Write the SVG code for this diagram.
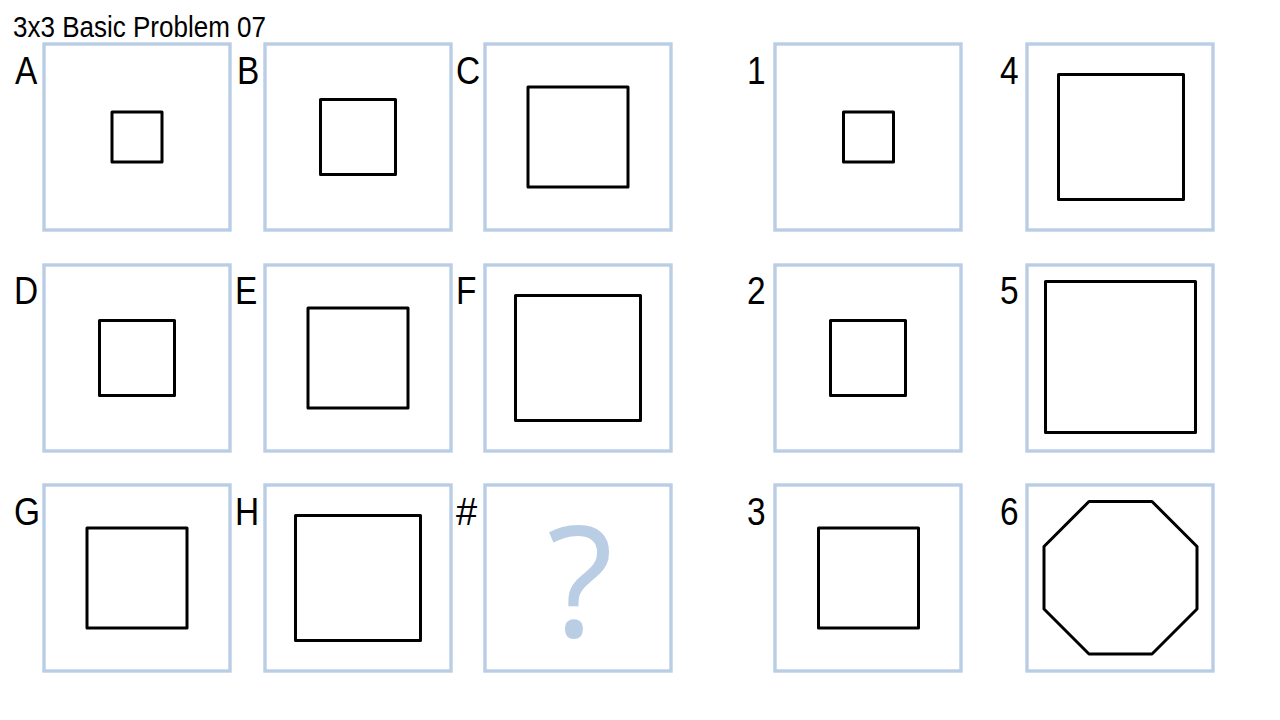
<svg xmlns="http://www.w3.org/2000/svg" width="1280" height="720" viewBox="0 0 1280 720">
<style>
.frame{fill:#ffffff;stroke:#b9cde5;stroke-width:3.4}
.shape{fill:none;stroke:#000000;stroke-width:3;stroke-linejoin:round}
.lbl{font-family:"Liberation Sans",Arial,sans-serif;font-size:38px;fill:#000000}
.title{font-family:"Liberation Sans",Arial,sans-serif;font-size:30px;fill:#000000}
.q{font-family:"Open Sans","DejaVu Sans",sans-serif;font-size:154px;fill:#b9cde5}
</style>
<rect width="1280" height="720" fill="#ffffff"/>
<text class="title" x="13" y="37" textLength="253" lengthAdjust="spacingAndGlyphs">3x3 Basic Problem 07</text>

<g id="A"><rect class="frame" x="44" y="44" width="186" height="186"/><rect class="shape" x="112" y="112" width="50" height="50"/><text class="lbl" transform="translate(15,84) scale(0.88,1)">A</text></g>
<g id="B"><rect class="frame" x="265" y="44" width="186" height="186"/><rect class="shape" x="320.5" y="99.5" width="75" height="75"/><text class="lbl" transform="translate(237,84) scale(0.88,1)">B</text></g>
<g id="C"><rect class="frame" x="485" y="44" width="186" height="186"/><rect class="shape" x="528" y="87" width="100" height="100"/><text class="lbl" transform="translate(456,84) scale(0.88,1)">C</text></g>

<g id="D"><rect class="frame" x="44" y="265" width="186" height="186"/><rect class="shape" x="99.5" y="320.5" width="75" height="75"/><text class="lbl" transform="translate(14,304) scale(0.88,1)">D</text></g>
<g id="E"><rect class="frame" x="265" y="265" width="186" height="186"/><rect class="shape" x="308" y="308" width="100" height="100"/><text class="lbl" transform="translate(235,304) scale(0.88,1)">E</text></g>
<g id="F"><rect class="frame" x="485" y="265" width="186" height="186"/><rect class="shape" x="515.5" y="295.5" width="125" height="125"/><text class="lbl" transform="translate(456,304) scale(0.88,1)">F</text></g>

<g id="G"><rect class="frame" x="44" y="485" width="186" height="186"/><rect class="shape" x="87" y="528" width="100" height="100"/><text class="lbl" transform="translate(14,525) scale(0.88,1)">G</text></g>
<g id="H"><rect class="frame" x="265" y="485" width="186" height="186"/><rect class="shape" x="295.5" y="515.5" width="125" height="125"/><text class="lbl" transform="translate(235,525) scale(0.88,1)">H</text></g>
<g id="Q"><rect class="frame" x="485" y="485" width="186" height="186"/><text class="q" x="580" y="637" text-anchor="middle">?</text><text class="lbl" transform="translate(456,525) scale(1.0,1)">#</text></g>

<g id="opt1"><rect class="frame" x="775" y="44" width="186" height="186"/><rect class="shape" x="843.5" y="112" width="50" height="50"/><text class="lbl" transform="translate(747,84) scale(0.88,1)">1</text></g>
<g id="opt2"><rect class="frame" x="775" y="265" width="186" height="186"/><rect class="shape" x="830.5" y="320.5" width="75" height="75"/><text class="lbl" transform="translate(747,304) scale(0.88,1)">2</text></g>
<g id="opt3"><rect class="frame" x="775" y="485" width="186" height="186"/><rect class="shape" x="818.5" y="528" width="100" height="100"/><text class="lbl" transform="translate(747,525) scale(0.88,1)">3</text></g>
<g id="opt4"><rect class="frame" x="1027" y="44" width="186" height="186"/><rect class="shape" x="1058.5" y="74.5" width="125" height="125"/><text class="lbl" transform="translate(1000,84) scale(0.88,1)">4</text></g>
<g id="opt5"><rect class="frame" x="1027" y="265" width="186" height="186"/><rect class="shape" x="1045.5" y="281.5" width="150" height="151"/><text class="lbl" transform="translate(1000,304) scale(0.88,1)">5</text></g>
<g id="opt6"><rect class="frame" x="1027" y="485" width="186" height="186"/><polygon class="shape" points="1089,501.5 1152,501.5 1197,546.5 1197,609 1152,654 1089,654 1044,609 1044,546.5"/><text class="lbl" transform="translate(1000,525) scale(0.88,1)">6</text></g>

<g id="connectors"></g>
</svg>
